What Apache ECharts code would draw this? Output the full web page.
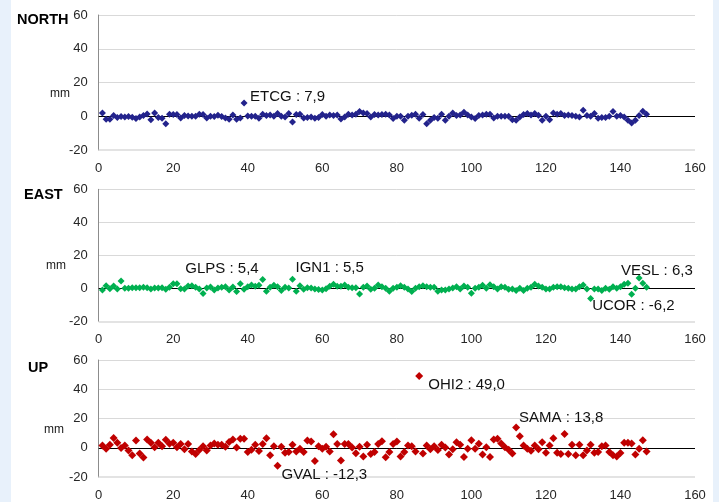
<!DOCTYPE html>
<html><head><meta charset="utf-8">
<script src="https://cdn.jsdelivr.net/npm/echarts@6/dist/echarts.min.js"></script>
<style>html,body{margin:0;padding:0;background:#fff}#c{width:719px;height:502px}</style>
</head><body><div id="c"></div>
<script>
// ---- data ----
const panelTitles = ['NORTH', 'EAST', 'UP'];
const unitLabel = 'mm';
const xTicks = [0, 20, 40, 60, 80, 100, 120, 140, 160];
const yTicks = [-20, 0, 20, 40, 60];

const north = [2,-1.8,-1.8,0.4,-0.8,-0.2,-0.4,-0.2,-0.6,-1.4,-0.4,0.4,1.4,-2,2,-0.8,-1.2,-4.4,1.2,1,
1,-1,0.4,0.2,0,0,1.2,1,-1,0,-0.2,0.6,-0.2,-1,-1.8,0.8,-1.8,-1,7.9,0.2,
0,0,-1.2,1.2,0.4,0.8,0,1.6,0,-0.4,1.6,-3.4,1,1.2,-1,-0.8,-0.4,-1.2,-0.8,1,
0,0.8,0.4,0.8,-1.6,-0.4,1.2,0.8,1.2,2.8,2,1.6,-0.4,1,0.8,1,1.2,0.8,-1.4,0,
0,-2.4,0,0.6,1.2,-1.2,1,-4.4,-2.4,-0.8,-1.2,1.2,-2.4,0,2,0.4,0.8,2.4,0.8,-0.4,
-1.4,0.4,0.8,1.2,1.2,-1,0,0,0,0,-2,-2.4,-0.4,1,1.6,0.8,1.6,0.6,-2.4,0,
-2,2,1.2,1.6,0.4,0.8,0.4,0,-0.4,3.6,0.4,0,1.6,-1.2,-0.8,-0.8,0,2.8,0,0.4,
-0.4,-2.4,-4,-2.4,0.4,3,1.2];

const east = [-1,1.6,-0.2,1.4,-0.4,4.4,0,0,0.4,0.4,0.4,0.6,0.4,-0.4,0.2,0.2,0.4,-0.6,0.6,2.8,
2.8,-0.2,-0.4,1.4,1.6,0.6,-0.4,-3.2,0.2,0.8,-1,0.2,0.6,1,-1,0.8,-2,2.8,-0.6,1,
2,1.2,1.8,5.4,-1.8,0.6,1.8,1,-1.4,0.6,0.2,5.5,-1.8,1.6,-0.6,0.4,0.2,-0.4,-0.8,-1,
-0.2,1.2,2.4,1.2,1.2,2,0.6,0.4,0.4,-3.4,0.6,1.4,-0.6,0,2,1,0,-1.8,0,0.6,
1.6,0.6,-0.4,-2,0,1,1.6,1,0.6,0.6,-1.8,-1,-1,-0.4,0.2,1,-0.4,1.4,0.6,-3,
0,0.6,1.8,0,2.2,1,-0.4,1,0.6,-0.6,-0.4,-1.4,0,-1.4,0,0.6,2.4,1.4,0.6,-0.4,
-0.4,0.6,1,1,0.4,0,-0.4,-0.4,1,2,-0.4,-6.2,-0.4,-0.4,-1.4,0,-0.6,1,0,1,
2.4,3,-3.6,0,6.3,3,0.6];

const up = [1.6,-0.7,2,6.7,3.4,-0.2,1.6,-1.8,-5.2,4.9,-4,-6.7,5.6,3.4,0.4,3.4,1.1,5.4,2.7,3.4,
0.4,2.5,-1.1,2.5,-2.5,-4.3,-1.6,1.1,-1.8,1.6,2.9,2,2,0.7,4,5.6,0.2,6.1,6.1,-2.9,
-1.3,2,-2.2,2.5,6.5,-5.2,1.1,-12.3,0.7,-3.4,-2.9,2,-2.5,-0.7,-2.9,4.9,4.3,-9,1.1,-0.7,
0.7,-2.5,9.2,2.5,-8.8,2.5,2.5,0.2,-3.8,0.7,-6,2,-4.3,-2.9,2.5,4.5,-6.5,-2.9,2.5,4.3,
-6,-2.9,1.6,1.1,-2.5,49,-4,1.6,-1.1,1.1,-1.6,2,0.2,-4.7,-1.1,3.8,2,-6.3,-0.7,5.2,
-0.7,2.7,-4.7,0.4,-6.3,5.6,6.1,2.9,0.4,-1.3,-4,13.8,7.9,1.6,-0.7,-2,1.6,-1.1,3.8,-3.4,
1.6,6.5,-3.4,-4.3,9.4,-4.3,2,-5.2,2,-5.2,-1.8,2,-3.4,-2.9,1.1,1.6,-2.9,-5.2,-6,-3.6,
3.4,3.4,2.9,-4.7,-0.7,5.2,-2.5];

// labelled stations: index (1-based x) -> station name
const northLabels = {39: 'ETCG'};
const eastLabels = {44: 'GLPS', 52: 'IGN1', 145: 'VESL', 132: 'UCOR'};
const upLabels = {86: 'OHI2', 112: 'SAMA', 48: 'GVAL'};

// ---- styles / layout ----
const colors = ['#23238C', '#00B050', '#C00000'];
const symSizes = [7, 7, 8];
const grids = [
  {left: 98.7, right: 24, top: 15, height: 135},
  {left: 98.7, right: 24, top: 189.3, height: 132},
  {left: 98.7, right: 24, top: 360, height: 118}
];
const labelPlacement = {
  ETCG: {align: 'left', offset: [6, -6]},
  GLPS: {align: 'right', offset: [-4, -11]},
  IGN1: {align: 'left', offset: [3, -11]},
  VESL: {align: 'left', offset: [-18, -7]},
  UCOR: {align: 'left', offset: [1.5, 7.5]},
  OHI2: {align: 'left', offset: [9, 9]},
  SAMA: {align: 'left', offset: [3, -9.5]},
  GVAL: {align: 'left', offset: [4, 9.5]}
};
const titlePos = [{left: 17, top: 12}, {left: 24, top: 187}, {left: 28, top: 360}];
const unitPos = [{left: 50, top: 88}, {left: 46, top: 260}, {left: 44, top: 424}];
const FONT = '"Liberation Sans", Arial, sans-serif';

const fmt = v => v.toFixed(1).replace('.', ',');

function buildData(values, labels) {
  return values.map((v, k) => {
    const x = k + 1;
    const name = labels[x];
    if (!name) return [x, v];
    const p = labelPlacement[name];
    return {
      value: [x, v],
      label: {
        show: true, position: 'inside', align: p.align, verticalAlign: 'middle',
        offset: p.offset, formatter: name + ' : ' + fmt(v),
        fontSize: 15, color: '#111', fontFamily: FONT
      }
    };
  });
}

const allValues = [north, east, up];
const allLabels = [northLabels, eastLabels, upLabels];

const option = {
  backgroundColor: '#E8F1FB',
  animation: false,
  graphic: [{type: 'rect', shape: {x: 11, y: 0, width: 702, height: 502}, style: {fill: '#ffffff'}, z: -10, silent: true}],
  title: [
    ...panelTitles.map((t, i) => ({text: t, left: titlePos[i].left, top: titlePos[i].top, padding: 0,
      textStyle: {fontSize: 14.5, fontWeight: 'bold', color: '#000', fontFamily: FONT}})),
    ...panelTitles.map((t, i) => ({text: unitLabel, left: unitPos[i].left, top: unitPos[i].top, padding: 0,
      textStyle: {fontSize: 12, fontWeight: 'normal', color: '#1a1a1a', fontFamily: FONT}}))
  ],
  grid: grids,
  xAxis: grids.map((g, i) => ({
    type: 'value', gridIndex: i, min: xTicks[0], max: xTicks[xTicks.length - 1], interval: 20,
    axisLine: {show: false}, axisTick: {show: false}, splitLine: {show: false},
    axisLabel: {fontSize: 13, color: '#262626', margin: 12, fontFamily: FONT}
  })),
  yAxis: grids.map((g, i) => ({
    type: 'value', gridIndex: i, min: yTicks[0], max: yTicks[yTicks.length - 1], interval: 20,
    axisLine: {show: true, lineStyle: {color: '#8C8C8C', width: 1}}, axisTick: {show: false},
    splitLine: {show: true, lineStyle: {color: '#D9D9D9', width: 1}},
    axisLabel: {fontSize: 13, color: '#262626', margin: 11, fontFamily: FONT}
  })),
  series: allValues.map((vals, i) => ({
    type: 'scatter', xAxisIndex: i, yAxisIndex: i,
    symbol: 'diamond', symbolSize: symSizes[i],
    itemStyle: {color: colors[i], opacity: 1},
    data: buildData(vals, allLabels[i]),
    markLine: {
      silent: true, symbol: ['none', 'none'], label: {show: false},
      lineStyle: {color: '#000', width: 1, type: 'solid'},
      data: [{yAxis: 0}, {yAxis: -20, lineStyle: {color: '#E3E3E3', width: 2}}],
      z: 1
    },
    z: 3
  }))
};

const chart = echarts.init(document.getElementById('c'), null, {renderer: 'canvas'});
chart.setOption(option);
</script>
</body></html>
